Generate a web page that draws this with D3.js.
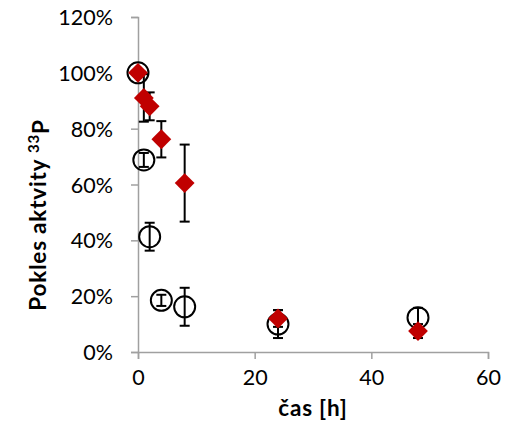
<!DOCTYPE html>
<html>
<head>
<meta charset="utf-8">
<script src="https://cdn.jsdelivr.net/npm/d3@7"></script>
<style>
  body { margin: 0; background: #fff; }
  svg text { font-family: Lato, "Open Sans", sans-serif; }
</style>
</head>
<body>
<main></main>
<script>
// time points [h]
const hours = [0, 1, 2, 4, 8, 24, 48];
// open black circles
const circleVals = [100, 68.8, 41.3, 18.5, 16.2, 10, 12.3];
const circleErr = [0, 2.5, 5, 2, 6.8, 5, 3.5];
// red diamonds
const diamondVals = [100, 91, 88, 76.2, 60.5, 12, 7.5];
const diamondErr = [0, 8.5, 5, 6.5, 13.8, 3, 2.5];

const xTicks = [0, 20, 40, 60];
const yTicks = [0, 20, 40, 60, 80, 100, 120];

const w = 508, h = 423;
const margin = {top: 17, right: 20, bottom: 71, left: 138};

const svg = d3.select("main").append("svg")
  .attr("width", w)
  .attr("height", h);

const x = d3.scaleLinear().domain([0, 60]).range([margin.left, w - margin.right]);
const y = d3.scaleLinear().domain([0, 120]).range([h - margin.bottom, margin.top]);

const axisColor = "#a0a0a0";

// X axis
const xAxis = svg.append("g")
  .attr("transform", "translate(0," + (h - margin.bottom) + ")")
  .call(d3.axisBottom(x).tickValues(xTicks).tickSize(7).tickPadding(11));
// Y axis
const yAxis = svg.append("g")
  .attr("transform", "translate(" + margin.left + ",0)")
  .call(d3.axisLeft(y).tickValues(yTicks).tickSize(7).tickPadding(18).tickFormat(d => d + "%"));

[xAxis, yAxis].forEach(g => {
  g.select(".domain").attr("stroke", axisColor).attr("stroke-width", 1.5);
  g.selectAll(".tick line").attr("stroke", axisColor).attr("stroke-width", 1.5);
  g.selectAll(".tick text").attr("fill", "#000").style("font-size", "21.5px");
});
yAxis.selectAll(".tick text").attr("dy", "0.35em");

// error bars helper
function errorBars(vals, errs) {
  const g = svg.append("g").attr("stroke", "#000").attr("stroke-width", 2);
  hours.forEach((t, i) => {
    if (!errs[i]) return;
    const cx = x(t), y1 = y(vals[i] + errs[i]), y2 = y(vals[i] - errs[i]);
    g.append("line").attr("x1", cx).attr("x2", cx).attr("y1", y1).attr("y2", y2);
    g.append("line").attr("x1", cx - 5).attr("x2", cx + 5).attr("y1", y1).attr("y2", y1);
    g.append("line").attr("x1", cx - 5).attr("x2", cx + 5).attr("y1", y2).attr("y2", y2);
  });
}

// circles series
errorBars(circleVals, circleErr);
svg.append("g").selectAll("circle")
  .data(hours)
  .join("circle")
  .attr("cx", d => x(d))
  .attr("cy", (d, i) => y(circleVals[i]))
  .attr("r", 10.5)
  .attr("fill", "none")
  .attr("stroke", "#000")
  .attr("stroke-width", 2);

// diamonds series
errorBars(diamondVals, diamondErr);
const diamond = d3.symbol().type(d3.symbolDiamond2).size(250);
svg.append("g").selectAll("path")
  .data(hours)
  .join("path")
  .attr("d", diamond)
  .attr("transform", (d, i) => "translate(" + x(d) + "," + y(diamondVals[i]) + ")")
  .attr("fill", "#c00000");

// axis titles
svg.append("text")
  .attr("x", (margin.left + w - margin.right) / 2)
  .attr("y", 416)
  .attr("text-anchor", "middle")
  .style("font-size", "22.5px")
  .style("letter-spacing", "0.8px")
  .style("font-weight", "bold")
  .text("čas [h]");

const yTitle = svg.append("text")
  .attr("transform", "translate(46,215) rotate(-90)")
  .attr("text-anchor", "middle")
  .style("font-size", "22.5px")
  .style("letter-spacing", "0.8px")
  .style("font-weight", "bold");
yTitle.append("tspan").text("Pokles aktvity ");
yTitle.append("tspan").attr("dy", "-0.45em").style("font-size", "15px").text("33");
yTitle.append("tspan").attr("dy", "0.45em").text("P");
</script>
</body>
</html>
